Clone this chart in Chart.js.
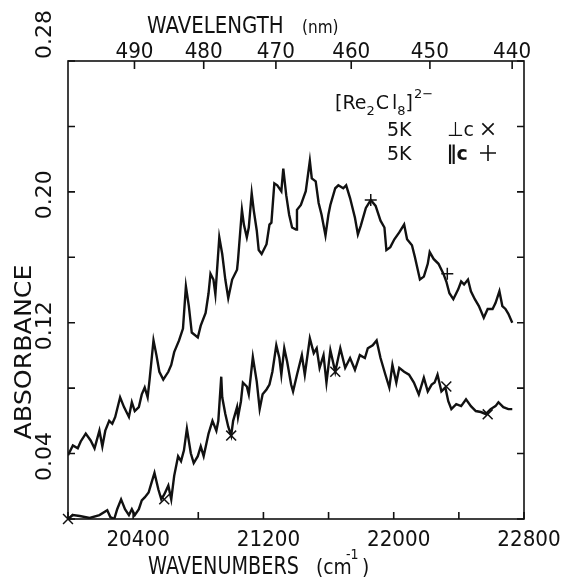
<!DOCTYPE html>
<html><head><meta charset="utf-8">
<script src="https://cdn.jsdelivr.net/npm/chart.js@4.4.1/dist/chart.umd.min.js"></script>
<style>html,body{margin:0;padding:0;background:#fff;}canvas{display:block;}</style>
</head><body>
<canvas id="c" width="565" height="577" style="width:565px;height:577px"></canvas>
<script>
// ---- data (wavenumber cm-1, absorbance) ----
const wavenumbersPar = [20000,20030,20060,20078,20109,20139,20163,20193,20211,20229,20253,20272,20290,20320,20344,20374,20392,20410,20435,20453,20471,20489,20501,20525,20543,20561,20585,20616,20634,20652,20682,20706,20724,20742,20760,20797,20815,20845,20863,20875,20893,20905,20929,20947,20966,20984,21008,21038,21044,21068,21080,21098,21110,21128,21141,21159,21171,21189,21219,21237,21249,21267,21285,21310,21322,21340,21358,21376,21400,21406,21430,21460,21485,21497,21521,21539,21557,21581,21599,21611,21641,21660,21690,21708,21732,21762,21780,21798,21829,21859,21889,21919,21943,21955,21979,22004,22034,22064,22082,22112,22130,22161,22185,22209,22221,22245,22275,22305,22323,22342,22366,22396,22414,22432,22456,22474,22498,22523,22553,22577,22607,22625,22649,22667,22686,22704,22728];
const absorbancePar = [0.039,0.045,0.0432,0.0474,0.0522,0.048,0.0432,0.054,0.0444,0.054,0.060,0.0582,0.0624,0.0744,0.0684,0.0624,0.0714,0.066,0.0684,0.0762,0.0804,0.0744,0.0852,0.1092,0.1002,0.090,0.0852,0.090,0.0942,0.102,0.1092,0.1164,0.1422,0.1302,0.114,0.111,0.1182,0.126,0.138,0.150,0.1464,0.1374,0.1722,0.162,0.1464,0.135,0.1464,0.1524,0.1584,0.189,0.180,0.1722,0.1782,0.1992,0.1884,0.1764,0.1644,0.162,0.168,0.180,0.1812,0.2052,0.204,0.2004,0.2142,0.198,0.186,0.1782,0.177,0.189,0.192,0.2004,0.219,0.2082,0.2064,0.1932,0.186,0.1734,0.186,0.192,0.2022,0.204,0.2022,0.204,0.1962,0.1842,0.174,0.1794,0.1902,0.195,0.1914,0.1824,0.1782,0.1644,0.1662,0.171,0.1752,0.180,0.171,0.1674,0.1602,0.1464,0.1482,0.156,0.1632,0.159,0.156,0.150,0.1452,0.138,0.1344,0.1404,0.1452,0.1434,0.1464,0.1392,0.1344,0.1302,0.123,0.1284,0.1284,0.132,0.1392,0.1302,0.1284,0.1254,0.120];
const wavenumbersPerp = [20000,20030,20072,20133,20193,20241,20260,20284,20302,20326,20350,20374,20392,20410,20435,20453,20471,20495,20513,20531,20555,20573,20591,20616,20634,20652,20676,20694,20712,20730,20754,20772,20797,20815,20833,20863,20887,20911,20923,20941,20947,20966,20984,21002,21014,21038,21044,21062,21074,21098,21110,21135,21159,21177,21195,21219,21237,21255,21279,21298,21310,21328,21346,21370,21382,21406,21424,21436,21454,21485,21509,21527,21545,21569,21587,21611,21641,21672,21702,21732,21762,21792,21823,21841,21871,21895,21919,21949,21973,21992,22016,22034,22064,22094,22124,22154,22185,22209,22233,22251,22269,22293,22317,22335,22354,22384,22414,22444,22474,22504,22535,22565,22595,22625,22643,22673,22704,22728];
const absorbancePerp = [0.000,0.0024,0.0018,0.0006,0.0024,0.0054,0.0012,0.000,0.006,0.012,0.006,0.0024,0.006,0.0024,0.006,0.0114,0.0132,0.0162,0.0222,0.0282,0.018,0.012,0.015,0.0204,0.012,0.0264,0.0384,0.0354,0.042,0.0552,0.0402,0.0342,0.0384,0.0444,0.0384,0.0522,0.060,0.054,0.060,0.087,0.0744,0.0642,0.0564,0.051,0.060,0.0684,0.0624,0.072,0.0834,0.081,0.0762,0.099,0.084,0.0672,0.0762,0.0792,0.0822,0.090,0.1062,0.0984,0.0882,0.1044,0.096,0.0822,0.078,0.0882,0.0954,0.1002,0.0882,0.1104,0.1014,0.1044,0.0924,0.1002,0.0834,0.1032,0.090,0.1044,0.0924,0.0984,0.0912,0.1002,0.0984,0.1044,0.1062,0.1092,0.0984,0.0882,0.0804,0.0942,0.0834,0.0924,0.090,0.0882,0.0834,0.0762,0.0864,0.078,0.0822,0.0834,0.0882,0.078,0.0804,0.072,0.0672,0.0702,0.069,0.0732,0.069,0.066,0.0654,0.0642,0.0672,0.069,0.0714,0.0684,0.0672,0.0672];
const plusMarkerWn = [21859, 22329];
const plusMarkerAbs = [0.195, 0.150];
const crossMarkerWn = [20000, 20591, 21002, 21641, 22323, 22577];
const crossMarkerAbs = [0.000, 0.012, 0.051, 0.090, 0.081, 0.064];
const bottomTicks = [20000, 20400, 20800, 21200, 21600, 22000, 22400, 22800];
const bottomTickLabels = ['20400', '21200', '22000', '22800'];
const topWavelengthTicks = [490, 480, 470, 460, 450, 440];
const yTicks = [0, 0.04, 0.08, 0.12, 0.16, 0.20, 0.24, 0.28];
const yTickLabels = ['0.04', '0.12', '0.20', '0.28'];

const FONT = '"DejaVu Sans", "Liberation Sans", sans-serif';
function txt(ctx, s, x, y, size, o) {
  o = o || {};
  ctx.save();
  ctx.translate(x, y);
  if (o.rot) ctx.rotate(o.rot);
  ctx.scale(o.sx || 1, 1);
  ctx.font = (o.weight || 'normal') + ' ' + size + 'px ' + FONT;
  ctx.textAlign = o.align || 'left';
  ctx.textBaseline = o.base || 'alphabetic';
  ctx.fillStyle = '#111';
  ctx.fillText(s, 0, 0);
  const w = ctx.measureText(s).width * (o.sx || 1);
  ctx.restore();
  return w;
}

const decor = {
  id: 'decor',
  afterDraw(chart) {
    const {ctx, chartArea: a, scales: {x, y}} = chart;
    ctx.save();
    ctx.strokeStyle = '#111';
    ctx.lineWidth = 1.6;
    ctx.strokeRect(a.left, a.top, a.right - a.left, a.bottom - a.top);
    ctx.beginPath();
    x.ticks.forEach(t => {
      const px = x.getPixelForValue(t.value);
      ctx.moveTo(px, a.bottom); ctx.lineTo(px, a.bottom - 7);
    });
    topWavelengthTicks.forEach(l => {
      const px = x.getPixelForValue(1e7 / l);
      ctx.moveTo(px, a.top); ctx.lineTo(px, a.top + 8);
    });
    y.ticks.forEach(t => {
      const py = y.getPixelForValue(t.value);
      ctx.moveTo(a.left, py); ctx.lineTo(a.left + 7, py);
      ctx.moveTo(a.right, py); ctx.lineTo(a.right - 7, py);
    });
    ctx.stroke();

    bottomTickLabels.forEach(s => {
      const px = x.getPixelForValue(parseFloat(s));
      txt(ctx, s, px + 5, a.bottom + 27, 21, {align: 'center', sx: 0.95});
    });
    topWavelengthTicks.forEach(l => {
      const px = x.getPixelForValue(1e7 / l);
      txt(ctx, String(l), px, a.top - 3, 21, {align: 'center', sx: 0.95});
    });
    yTickLabels.forEach((s, i) => {
      const py = y.getPixelForValue(parseFloat(s));
      const last = i === yTickLabels.length - 1;
      txt(ctx, s, 45, last ? py - 2 : py + 3, 22, {rot: -Math.PI / 2, align: last ? 'left' : 'center', base: 'middle'});
    });
    txt(ctx, 'WAVENUMBERS', 148, 574, 24, {sx: 0.8});
    txt(ctx, '(cm', 316, 574, 22, {sx: 0.85});
    txt(ctx, '-1', 346, 559, 14, {sx: 0.9});
    txt(ctx, ')', 362, 574, 22, {sx: 0.85});
    txt(ctx, 'WAVELENGTH', 147, 33, 23, {sx: 0.86});
    txt(ctx, '(nm)', 302, 33, 18, {sx: 0.85});
    txt(ctx, 'ABSORBANCE', 25, 352, 23, {rot: -Math.PI / 2, align: 'center', base: 'middle', sx: 1.1});

    let cx = 335;
    cx += txt(ctx, '[Re', cx, 109, 20, {sx: 0.95});
    cx += txt(ctx, '2', cx, 115, 13);
    cx += txt(ctx, 'C', cx + 1, 109, 20, {sx: 0.95}) + 4;
    cx += txt(ctx, 'l', cx, 109, 20, {sx: 0.95});
    cx += txt(ctx, '8', cx, 115, 13);
    cx += txt(ctx, ']', cx, 109, 20, {sx: 0.95});
    txt(ctx, '2\u2212', cx + 1, 98, 13);
    txt(ctx, '5K', 387, 136, 20, {sx: 0.95});
    txt(ctx, '\u22A5c', 447, 136, 20, {sx: 0.95});
    txt(ctx, '5K', 387, 160, 20, {sx: 0.95});
    txt(ctx, '\u2225c', 447, 160, 20, {sx: 0.95, weight: 'bold'});
    const h = Chart.helpers;
    ctx.strokeStyle = '#111'; ctx.fillStyle = '#111';
    h.drawPoint(ctx, {pointStyle: 'crossRot', radius: 8, borderWidth: 1.5}, 488, 129);
    h.drawPoint(ctx, {pointStyle: 'cross', radius: 8, borderWidth: 1.5}, 488, 153);
    ctx.restore();
  }
};

const toXY = (xs, ys) => xs.map((v, i) => ({x: v, y: ys[i]}));

new Chart(document.getElementById('c'), {
  type: 'line',
  data: {
    datasets: [
      {label: '5K \u2225c', data: toXY(wavenumbersPar, absorbancePar), borderColor: '#111', borderWidth: 2.4, pointRadius: 0, tension: 0},
      {label: '5K \u22A5c', data: toXY(wavenumbersPerp, absorbancePerp), borderColor: '#111', borderWidth: 2.4, pointRadius: 0, tension: 0},
      {label: '\u2225c markers', data: toXY(plusMarkerWn, plusMarkerAbs), showLine: false, pointStyle: 'cross', pointRadius: 6, borderWidth: 1.5, borderColor: '#111'},
      {label: '\u22A5c markers', data: toXY(crossMarkerWn, crossMarkerAbs), showLine: false, pointStyle: 'crossRot', pointRadius: 7, borderWidth: 1.5, borderColor: '#111', clip: false}
    ]
  },
  options: {
    responsive: false,
    animation: false,
    devicePixelRatio: 1,
    layout: {padding: {left: 60, right: 41, top: 61, bottom: 50}},
    plugins: {legend: {display: false}, tooltip: {enabled: false}},
    scales: {
      x: {
        type: 'linear', min: 20000, max: 22800,
        afterBuildTicks: s => { s.ticks = bottomTicks.map(v => ({value: v})); },
        ticks: {display: false}, grid: {display: false}, border: {display: false}
      },
      y: {
        type: 'linear', min: 0, max: 0.28,
        afterBuildTicks: s => { s.ticks = yTicks.map(v => ({value: v})); },
        ticks: {display: false}, grid: {display: false}, border: {display: false}
      }
    }
  },
  plugins: [decor]
});
</script>
</body></html>
